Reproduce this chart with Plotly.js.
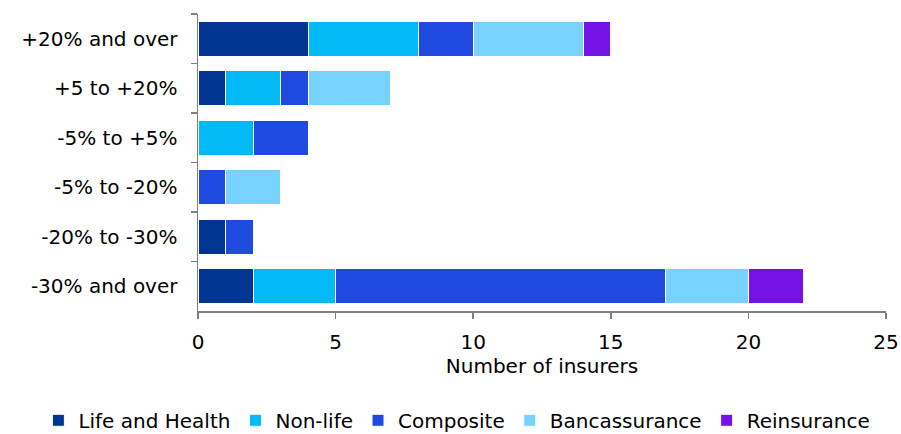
<!DOCTYPE html>
<html><head><meta charset="utf-8">
<script src="https://cdn.plot.ly/plotly-3.0.1.min.js"></script>
<style>body{margin:0;padding:0;background:#fff}#chart{width:901px;height:434px}</style>
</head><body><div id="chart"></div>
<script>
const categories = ["+20% and over","+5 to +20%","-5% to +5%","-5% to -20%","-20% to -30%","-30% and over"];
const seriesNames = ["Life and Health","Non-life","Composite","Bancassurance","Reinsurance"];
const lifeHealth   = [4,1,0,0,1,2];
const nonLife      = [4,2,2,0,0,3];
const composite    = [2,1,2,1,1,12];
const bancassurance= [4,3,0,2,0,3];
const reinsurance  = [1,0,0,0,0,2];
const colors = ["#003591","#00B9F5","#1F4BE0","#78D2FF","#7412E8"];
const values = [lifeHealth,nonLife,composite,bancassurance,reinsurance];

const traces = values.map((v,i)=>({
  type:'bar', orientation:'h', name:seriesNames[i],
  y:categories, x:v,
  marker:{color:colors[i], line:{color:'#ffffff', width:1}},
  hoverinfo:'x+name'
}));

const layout = {
  width:901, height:434,
  barmode:'stack', bargap:0.3,
  margin:{l:198, r:15, t:14, b:123, autoexpand:false},
  paper_bgcolor:'#fff', plot_bgcolor:'#fff',
  font:{family:'"DejaVu Sans", Arial, sans-serif', size:20, color:'#000'},
  xaxis:{range:[0,25], dtick:5, showgrid:false, zeroline:false,
    showline:true, linecolor:'#7f7f7f', linewidth:1.5,
    ticks:'outside', ticklen:6, tickcolor:'#7f7f7f', tickwidth:1.5,
    tickfont:{size:20}, ticklabelstandoff:6,
    title:{text:'Number of insurers', font:{size:20}, standoff:5}},
  yaxis:{type:'category', autorange:'reversed', showgrid:false, zeroline:false,
    showline:true, linecolor:'#7f7f7f', linewidth:1.5,
    ticks:'outside', ticklen:6, tickcolor:'#7f7f7f', tickwidth:1.5, tickson:'boundaries',
    tickfont:{size:20}, ticklabelstandoff:15},
  showlegend:true,
  legend:{orientation:'h', x:-0.232, xanchor:'left', y:-0.368, yanchor:'middle',
    font:{size:20}, itemwidth:30, traceorder:'normal', tracegroupgap:0}
};
Plotly.newPlot('chart', traces, layout, {displayModeBar:false, staticPlot:true});
</script></body></html>
